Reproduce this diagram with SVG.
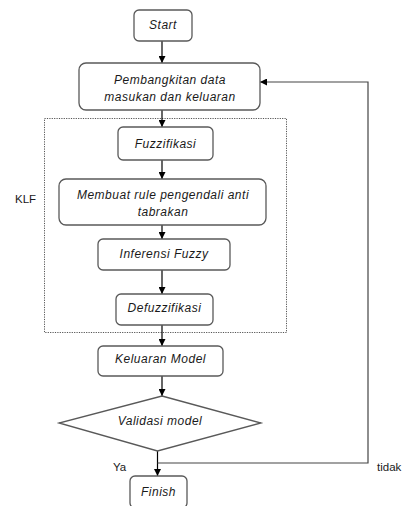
<svg xmlns="http://www.w3.org/2000/svg" width="406" height="506" viewBox="0 0 406 506">
<style>
.box{fill:#fff;stroke:#595959;stroke-width:1.3}
.t{font-family:"Liberation Sans",Arial,sans-serif;font-style:italic;font-size:12px;letter-spacing:0.5px;fill:#1a1a1a;text-anchor:middle}
.lbl{font-family:"Liberation Sans",Arial,sans-serif;font-size:11.5px;fill:#1a1a1a}
.c{fill:none;stroke:#000;stroke-width:1.2}
.c2{fill:none;stroke:#444;stroke-width:1.2}
</style>
<defs>
<marker id="ah" viewBox="0 0 10 10" refX="10" refY="5" markerWidth="7" markerHeight="7" markerUnits="userSpaceOnUse" orient="auto">
<path d="M0,0 L10,5 L0,10 z" fill="#000"/>
</marker>
</defs>
<rect id="klf-frame" x="44.5" y="118.5" width="242" height="214" fill="none" stroke="#555" stroke-width="1" stroke-dasharray="1.2,1.2"/>
<text class="lbl" x="15" y="203">KLF</text>
<g id="connectors">
<line class="c" x1="162" y1="41" x2="162" y2="63" marker-end="url(#ah)"/>
<line class="c" x1="162" y1="110" x2="162" y2="127" marker-end="url(#ah)"/>
<line class="c" x1="162" y1="160" x2="162" y2="179" marker-end="url(#ah)"/>
<line class="c" x1="162" y1="225" x2="162" y2="239" marker-end="url(#ah)"/>
<line class="c" x1="162" y1="270" x2="162" y2="294" marker-end="url(#ah)"/>
<line class="c" x1="162" y1="325" x2="162" y2="346" marker-end="url(#ah)"/>
<line class="c" x1="162" y1="376" x2="162" y2="396" marker-end="url(#ah)"/>
<line class="c" x1="157.5" y1="451" x2="157.5" y2="476" marker-end="url(#ah)"/>
<polyline class="c2" points="157.5,463 368,463 368,82 260,82" marker-end="url(#ah)"/>
</g>
<g id="start"><rect class="box" x="134" y="10" width="58" height="31" rx="5"/><text class="t" x="163" y="29">Start</text></g>
<g id="pembangkitan"><rect class="box" x="79" y="63" width="181" height="47" rx="7"/><text class="t" x="170" y="84">Pembangkitan data</text><text class="t" x="170" y="101">masukan dan keluaran</text></g>
<g id="fuzzifikasi"><rect class="box" x="118" y="127" width="95" height="33" rx="5"/><text class="t" x="165.5" y="148">Fuzzifikasi</text></g>
<g id="rule"><rect class="box" x="59" y="179" width="207" height="46" rx="7"/><text class="t" x="163" y="199">Membuat rule pengendali anti</text><text class="t" x="163" y="216">tabrakan</text></g>
<g id="inferensi"><rect class="box" x="98" y="239" width="132" height="31" rx="5"/><text class="t" x="164" y="258">Inferensi Fuzzy</text></g>
<g id="defuzzifikasi"><rect class="box" x="116" y="294" width="97" height="31" rx="5"/><text class="t" x="164.5" y="312">Defuzzifikasi</text></g>
<g id="keluaran"><rect class="box" x="98" y="346" width="125" height="30" rx="5"/><text class="t" x="160.5" y="363">Keluaran Model</text></g>
<g id="validasi"><polygon class="box" points="162,396 261,423 157.5,451 59,423"/><text class="t" x="160" y="425">Validasi model</text></g>
<text class="lbl" x="113" y="471">Ya</text>
<text class="lbl" x="377" y="471">tidak</text>
<g id="finish"><rect class="box" x="130" y="476" width="57" height="32" rx="5"/><text class="t" x="158.5" y="496">Finish</text></g>
</svg>
